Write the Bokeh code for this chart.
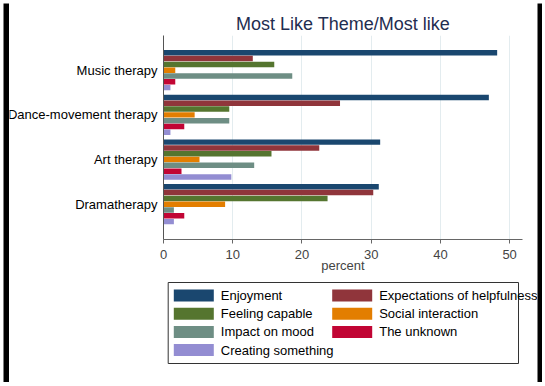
from bokeh.plotting import figure
from bokeh.models import ColumnDataSource, FixedTicker, Range1d
from bokeh.core.properties import value
from bokeh.layouts import column, row
from bokeh.embed import file_html
from bokeh.resources import INLINE

# ---- data ----
therapies = ["Music therapy", "Dance-movement therapy", "Art therapy", "Dramatherapy"]
series = ["Enjoyment", "Expectations of helpfulness", "Feeling capable", "Social interaction",
          "Impact on mood", "The unknown", "Creating something"]
colors = ["#1a476f", "#90353b", "#55752f", "#e37e00", "#6e8e84", "#c10534", "#938dd2"]

enjoyment = [48.2, 47.0, 31.3, 31.1]
expectations = [12.9, 25.5, 22.5, 30.3]
feeling = [16.0, 9.5, 15.6, 23.7]
social = [1.7, 4.5, 5.2, 8.9]
impact = [18.6, 9.5, 13.1, 1.5]
unknown = [1.7, 3.0, 2.6, 3.0]
creating = [1.0, 1.0, 9.8, 1.5]
values = [enjoyment, expectations, feeling, social, impact, unknown, creating]

x_ticks = [0, 10, 20, 30, 40, 50]
title_text = "Most Like Theme/Most like"
x_label = "percent"

FONT = "Liberation Sans"
n = len(therapies)
group_y = [n - 1 - i for i in range(n)]   # Music at top
bar_h = 0.13
Y0, Y1 = -0.79, 3.777
TOP, BOT, H = 30, 39, 273

# ---- main chart ----
p = figure(width=378, height=H, output_backend="svg", toolbar_location=None,
           x_range=Range1d(0, 51.86), y_range=Range1d(Y0, Y1),
           min_border_left=4, min_border_right=15, min_border_top=TOP, min_border_bottom=BOT,
           background_fill_color="white", border_fill_color="white", outline_line_color=None)

p.title.text = title_text
p.title.align = "center"
p.title.text_font = FONT
p.title.text_font_size = "18px"
p.title.text_font_style = "normal"
p.title.text_color = "#1f2d50"
p.title.standoff = 4

for j, (name, col, vals) in enumerate(zip(series, colors, values)):
    ys = [g + (3 - j) * bar_h for g in group_y]
    src = ColumnDataSource(dict(y=ys, right=vals))
    p.hbar(y="y", left=0, right="right", height=bar_h * 0.94, source=src,
           fill_color=col, line_color=None)

p.xaxis.ticker = FixedTicker(ticks=x_ticks)
p.xaxis.axis_label = x_label
p.xaxis.axis_label_text_font = FONT
p.xaxis.axis_label_text_font_size = "13px"
p.xaxis.axis_label_text_font_style = "normal"
p.xaxis.axis_label_standoff = -4
p.xaxis.major_label_text_font = FONT
p.xaxis.major_label_text_font_size = "13px"
p.xaxis.major_label_standoff = 6
p.xaxis.major_tick_out = 4
p.xaxis.major_tick_in = 0
p.xaxis.minor_tick_line_color = None
p.xaxis.axis_line_color = "#666666"
p.xaxis.major_tick_line_color = "#666666"

p.yaxis.ticker = FixedTicker(ticks=group_y)
p.yaxis.major_label_overrides = {g: "" for g in group_y}
p.yaxis.major_label_standoff = 0
p.yaxis.major_tick_out = 0
p.yaxis.major_tick_in = 0
p.yaxis.minor_tick_line_color = None
p.yaxis.axis_line_color = "#555555"

p.xgrid.grid_line_color = "#e3ecef"
p.ygrid.grid_line_color = None

# ---- category labels (separate panel) ----
lab = figure(width=150, height=H, output_backend="svg", toolbar_location=None,
             x_range=Range1d(0, 150), y_range=Range1d(Y0, Y1),
             min_border_left=0, min_border_right=0, min_border_top=TOP, min_border_bottom=BOT,
             x_axis_type=None, y_axis_type=None, outline_line_color=None,
             background_fill_color="white", border_fill_color="white")
lab.grid.visible = False
lab.text(x=[148] * n, y=group_y, text=therapies, text_align="right", text_baseline="middle",
         text_font=value(FONT), text_font_size="13px", text_color="#000000")

# ---- legend panel (pixel units) ----
lg = figure(width=528, height=102, output_backend="svg", toolbar_location=None,
            x_range=Range1d(0, 528), y_range=Range1d(0, 102),
            min_border_left=0, min_border_right=0, min_border_top=0, min_border_bottom=0,
            background_fill_color="white", border_fill_color="white",
            outline_line_color=None, x_axis_type=None, y_axis_type=None)
lg.grid.visible = False

box_l, box_r, box_b, box_t = 158.7, 509, 17, 98
lg.quad(left=[box_l], right=[box_r], bottom=[box_b], top=[box_t], fill_color=None,
        line_color="#333333", line_width=1)
row_y0, row_step = 85, 18.2
col_x = [164.3, 322.7]
sw_w, sw_h, gap = 40, 12, 7
rows = [i // 2 for i in range(len(series))]
cols = [i % 2 for i in range(len(series))]
sx = [col_x[c] for c in cols]
sy = [row_y0 - r * row_step for r in rows]
lg.quad(left=sx, right=[x + sw_w for x in sx], bottom=[y - sw_h / 2 for y in sy],
        top=[y + sw_h / 2 for y in sy], fill_color=colors, line_color=None)
lg.text(x=[x + sw_w + gap for x in sx], y=sy, text=series, text_align="left",
        text_baseline="middle", text_font=value(FONT), text_font_size="13px",
        text_color="#000000")


def bar(w, h, c):
    f = figure(width=w, height=h, output_backend="svg", toolbar_location=None,
               min_border_left=0, min_border_right=0, min_border_top=0, min_border_bottom=0,
               x_axis_type=None, y_axis_type=None,
               background_fill_color=c, border_fill_color=c, outline_line_color=None)
    f.grid.visible = False
    return f


chart = row(lab, p, spacing=0)
inner = column(bar(528, 2, "#555555"), chart, lg, bar(528, 2, "#555555"), spacing=0)
framed = row(bar(6, 379, "#000000"), inner, bar(5, 379, "#000000"), spacing=0)
page = column(bar(542, 3, "#ffffff"), row(bar(3, 379, "#ffffff"), framed, spacing=0), spacing=0)

open("out.html", "w").write(file_html(page, INLINE))
